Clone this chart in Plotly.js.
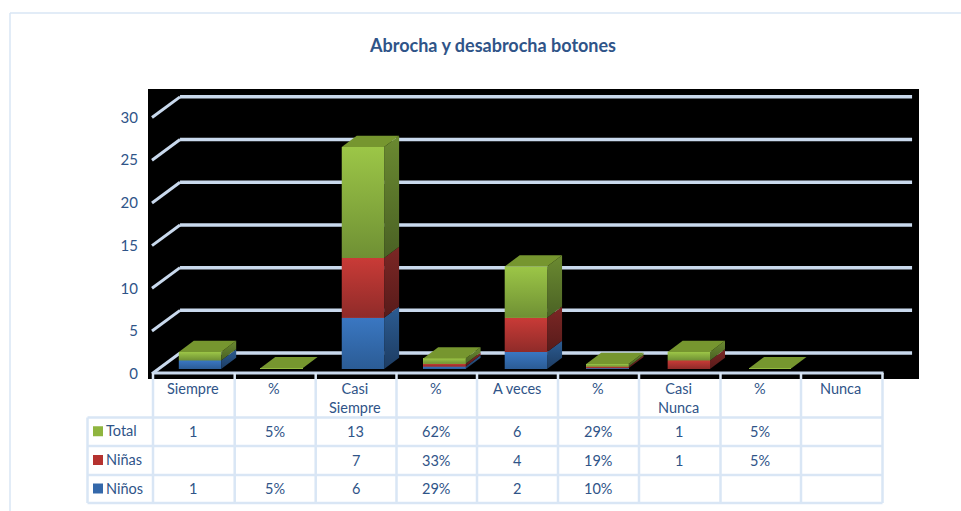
<!DOCTYPE html>
<html><head><meta charset="utf-8">
<script src="https://cdn.plot.ly/plotly-3.0.0.min.js"></script>
<style>html,body{margin:0;padding:0;background:#fff}#c{width:961px;height:511px}</style>
</head><body><div id="c"></div>
<script>
var titleText = 'Abrocha y desabrocha botones';
var categories = ['Siempre','%','Casi<br>Siempre','%','A veces','%','Casi<br>Nunca','%','Nunca'];
var ninos = [1,0.05,6,0.29,2,0.10,null,null,null];
var ninas = [null,null,7,0.33,4,0.19,1,0.05,null];
var total = [1,0.05,13,0.62,6,0.29,1,0.05,null];
var yTicks = [0,5,10,15,20,25,30];

var seriesDefs = [
 {name:'Niños', v:ninos, front:'#3a77c2', frontDark:'#2b5c95', side:'#2c5c92', sideDark:'#1d3c62', swatch:'#3468aa'},
 {name:'Niñas', v:ninas, front:'#c93b37', frontDark:'#8f2b29', side:'#7c2725', sideDark:'#571b1a', swatch:'#b5322f'},
 {name:'Total', v:total, front:'#9cc647', frontDark:'#6f9034', side:'#6b8a31', sideDark:'#4a6124', swatch:'#8fb53f'}
];

var W=961,H=511,L=148,R=919,T=89,B=379;
var px=function(x){return (x-L)/(R-L);}, py=function(y){return (B-y)/(B-T);};
var textCol='#2f5488', lineCol='#d9e6f5', gridCol='#c9d9ed', FONT='Lato, "Open Sans", sans-serif';

// 3-D projection, in data units
var barW=0.52, depthX=0.184, depthY=1.32;
var xIdx=categories.map(function(_,i){return i;});
var traces=[], shapes=[], annos=[];

// Stacked fronts
seriesDefs.forEach(function(s){
  traces.push({type:'bar',name:s.name,x:xIdx,y:s.v,width:barW,marker:{color:s.front,line:{width:0}},showlegend:false,hoverinfo:'x+y+name'});
});

// Shaded faces, derived from the same values
xIdx.forEach(function(i){
  var base=0, last=null;
  var x0=i-barW/2, x1=i+barW/2;
  seriesDefs.forEach(function(s){
    var v=s.v[i];
    if(v==null) return;
    var top=base+v;
    traces.push({type:'scatter',mode:'lines',x:[x0,x1,x1,x0,x0],y:[base,base,top,top,base],fill:'toself',
      line:{width:0,color:s.front},fillgradient:{type:'vertical',colorscale:[[0,s.frontDark],[1,s.front]]},showlegend:false,hoverinfo:'skip'});
    traces.push({type:'scatter',mode:'lines',x:[x1,x1+depthX,x1+depthX,x1,x1],y:[base,base+depthY,top+depthY,top,base],fill:'toself',
      line:{width:0,color:s.side},fillgradient:{type:'vertical',colorscale:[[0,s.sideDark],[1,s.side]]},showlegend:false,hoverinfo:'skip'});
    base=top; last=s;
  });
  if(last){
    traces.push({type:'scatter',mode:'lines',x:[x0,x0+depthX,x1+depthX,x1,x0],y:[base,base+depthY,base+depthY,base,base],fill:'toself',
      fillcolor:'#76962f',line:{width:0,color:'#76962f'},showlegend:false,hoverinfo:'skip'});
  }
});

// Gridlines on wall and left side
var gridFrontX=-0.589, gridBackX=-0.245, gridEndX=8.74, frontOff=-0.55, backOff=1.87;
yTicks.forEach(function(t){
  shapes.push({type:'line',layer:'below',xref:'x',yref:'y',x0:gridFrontX,y0:t+frontOff,x1:gridBackX,y1:t+backOff,line:{color:gridCol,width:3}});
  shapes.push({type:'line',layer:'below',xref:'x',yref:'y',x0:gridBackX,y0:t+backOff,x1:gridEndX,y1:t+backOff,line:{color:gridCol,width:3.5}});
});

// Outer frame
function pline(x0,y0,x1,y1,col,w){shapes.push({type:'line',layer:'above',xref:'paper',yref:'paper',x0:px(x0),y0:py(y0),x1:px(x1),y1:py(y1),line:{color:col,width:w}});}
pline(10,13,W,13,lineCol,1.5);
pline(10,13,10,H,lineCol,1.5);

// Data table
var colX=[153,234.7,315.7,396.5,477,558,639,720.5,801,882.5];
var rowY=[373,417.5,446,475,503], labelX=87.5;
pline(colX[0],373,colX[9]+1,373,gridCol,3);
colX.forEach(function(x){pline(x,373,x,rowY[4],lineCol,2.5);});
pline(labelX,rowY[1],labelX,rowY[4],lineCol,2.5);
rowY.slice(1).forEach(function(y){pline(labelX,y,colX[9],y,lineCol,2.5);});

function note(x,y,t,anchor,ya,size,bold){
  annos.push({xref:'paper',yref:'paper',x:px(x),y:py(y),text:bold?'<b>'+t+'</b>':t,showarrow:false,xanchor:anchor,yanchor:ya,align:'center',
    font:{family:FONT,size:size,color:textCol}});
}
categories.forEach(function(c,i){note((colX[i]+colX[i+1])/2-1,378,c,'center','top',14.5);});
var rows=[seriesDefs[2],seriesDefs[1],seriesDefs[0]];
rows.forEach(function(s,r){
  var yc=(rowY[r+1]+rowY[r+2])/2;
  shapes.push({type:'rect',layer:'above',xref:'paper',yref:'paper',x0:px(93),x1:px(103),y0:py(yc-5.5),y1:py(yc+4.5),fillcolor:s.swatch,line:{width:0}});
  note(104,yc-1,s.name,'left','middle',14.5);
  s.v.forEach(function(v,i){
    if(v==null) return;
    note((colX[i]+colX[i+1])/2-0.5,yc-0.5,i%2?Math.round(v*100)+'%':String(v),'center','middle',14.5);
  });
});
note(492,45,titleText,'center','middle',18,true);

var layout={
  width:W,height:H,autosize:false,paper_bgcolor:'#ffffff',plot_bgcolor:'#000000',
  margin:{l:L,r:W-R,t:T,b:H-B,pad:0},barmode:'stack',showlegend:false,
  font:{family:FONT,color:textCol,size:14.5},
  xaxis:{type:'linear',range:[-0.638,8.825],showgrid:false,zeroline:false,showticklabels:false,ticks:'',showline:false},
  yaxis:{type:'linear',range:[-1.17,32.79],showgrid:false,zeroline:false,showline:false,
    tickmode:'array',tickvals:yTicks.map(function(t){return t+frontOff;}),ticktext:yTicks.map(String),
    ticks:'outside',ticklen:6,tickcolor:'rgba(0,0,0,0)',tickfont:{family:FONT,size:15,color:textCol}},
  shapes:shapes,annotations:annos
};
Plotly.newPlot('c',traces,layout,{displayModeBar:false,staticPlot:true});
</script></body></html>
